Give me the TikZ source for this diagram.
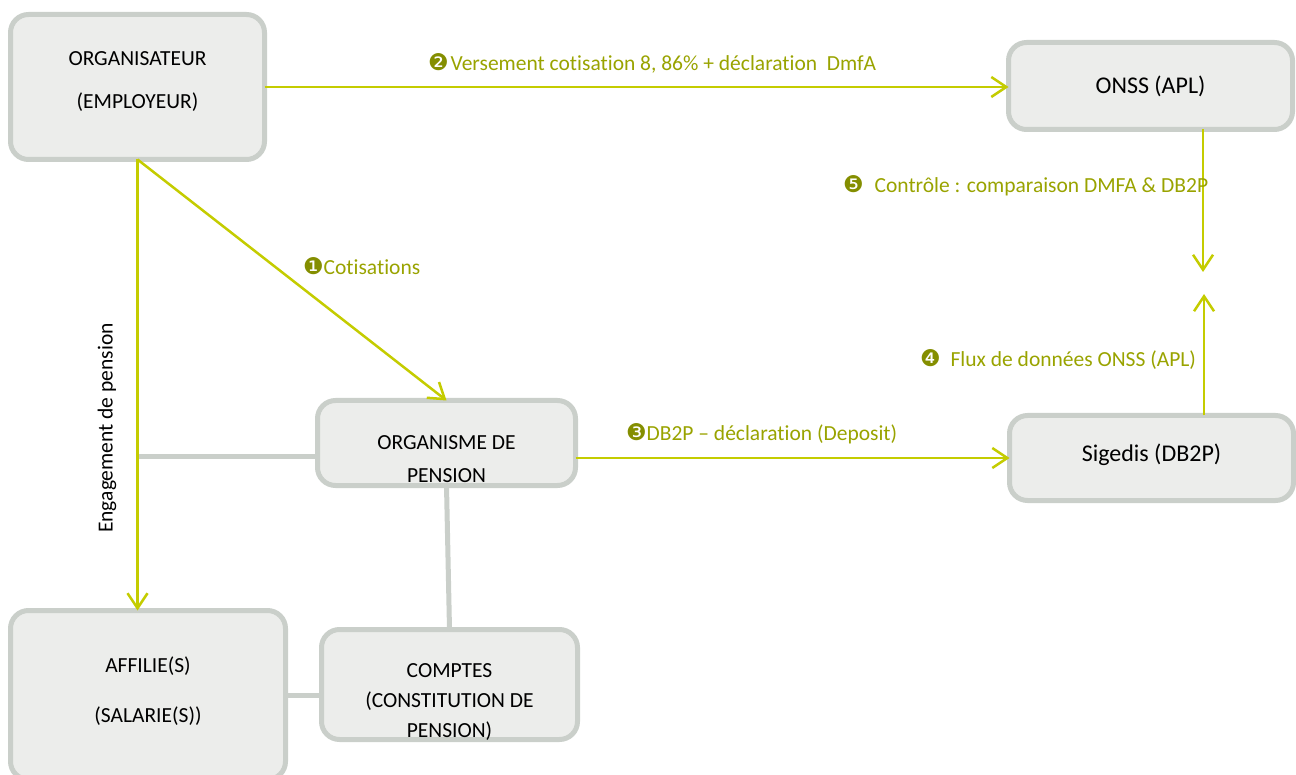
\documentclass[tikz,border=0pt]{standalone}
\usepackage{fontspec}
\setmainfont{Carlito}[Ligatures=NoCommon]
\newfontfamily\dingfont{DejaVu Sans}
\usetikzlibrary{arrows.meta}

\definecolor{boxfill}{RGB}{236,237,235}
\definecolor{boxline}{RGB}{202,207,202}
\definecolor{flowline}{RGB}{196,204,0}
\definecolor{flowtext}{RGB}{153,163,0}
\definecolor{flowmark}{RGB}{132,142,0}

\newcommand{\stepno}[1]{{\dingfont\fontsize{23}{25}\selectfont\color{flowmark}#1}}

\begin{document}
\begin{tikzpicture}[x=1pt, y=-1pt,
  every node/.style={font=\fontsize{21.5}{25}\selectfont, inner sep=0pt, outer sep=0pt},
  box/.style={draw=boxline, fill=boxfill, line width=5pt, rounded corners=18pt},
  txt/.style={align=center, text=black},
  flow/.style={draw=flowline, line width=2.5pt, -{Straight Barb[length=15pt,width=20pt]}},
  link/.style={draw=boxline, line width=5pt},
  flowlbl/.style={text=flowtext, anchor=base west}]
\useasboundingbox (0,0) rectangle (1296,775);

% boxes
\node[box, minimum width=254pt, minimum height=145pt] (org) at (137.5,87) {};
\node[box, minimum width=284pt, minimum height=87pt] (onss) at (1150.5,86) {};
\node[box, minimum width=258pt, minimum height=85pt] (op) at (446.5,443) {};
\node[box, minimum width=284pt, minimum height=85pt] (sig) at (1151.5,458) {};
\node[box, minimum width=275pt, minimum height=169pt] (aff) at (148,695) {};
\node[box, minimum width=256pt, minimum height=110pt] (cpt) at (449.5,684.5) {};

% box texts
\node[txt, yshift=5.5pt] (orgtxt) at (org) {ORGANISATEUR\\[18pt](EMPLOYEUR)};
\node[txt, font=\fontsize{24}{28}\selectfont] (onsstxt) at (onss) {ONSS (APL)};
\node[txt, yshift=-16pt] (optxt) at (op) {ORGANISME DE\\[8pt]PENSION};
\node[txt, yshift=3pt, font=\fontsize{24}{28}\selectfont] (sigtxt) at (sig) {Sigedis (DB2P)};
\node[txt, yshift=4pt] (afftxt) at (aff) {AFFILIE(S)\\[25pt](SALARIE(S))};
\node[txt, yshift=-18pt] (cpttxt) at (cpt) {COMPTES\\[5pt](CONSTITUTION DE\\[5pt]PENSION)};

% grey links
\coordinate (fork) at (137.5,456);
\draw[link] (fork) -- (fork -| op.west);
\draw[link] (op.south) -- (cpt.north);
\draw[link] (aff.east) -- (aff.east -| cpt.west);

% flows
\coordinate (tip5) at (1203,272);
\coordinate (tip4) at (1204,294);
\draw[flow] (org.east) -- (org.east -| onss.west);
\draw[flow] (org.south) -- (op.north);
\draw[flow] (org.south) -- (org.south |- aff.north);
\draw[flow] (sig.west -| op.east) -- (sig.west);
\draw[flow] (tip5 |- onss.south) -- (tip5);
\draw[flow] (tip4 |- sig.north) -- (tip4);

% flow labels
\node[flowlbl] (lbl1) at (303,275) {\stepno{❶}Cotisations};
\node[flowlbl] (lbl2) at (428,71) {\stepno{❷}\hspace{2pt}Versement cotisation 8, 86\% + déclaration~~DmfA};
\node[flowlbl] (lbl3) at (626,440) {\stepno{❸}DB2P -- déclaration (Deposit)};
\node[flowlbl] (lbl4) at (920,367) {\stepno{❹}\hspace{10pt}Flux de données ONSS (APL)};
\node[flowlbl] (lbl5) at (843,193) {\stepno{❺}\hspace{11pt}Contrôle : comparaison DMFA \& DB2P};
\node[txt, rotate=90] (eng) at (107,428) {Engagement de pension};
\end{tikzpicture}
\end{document}
